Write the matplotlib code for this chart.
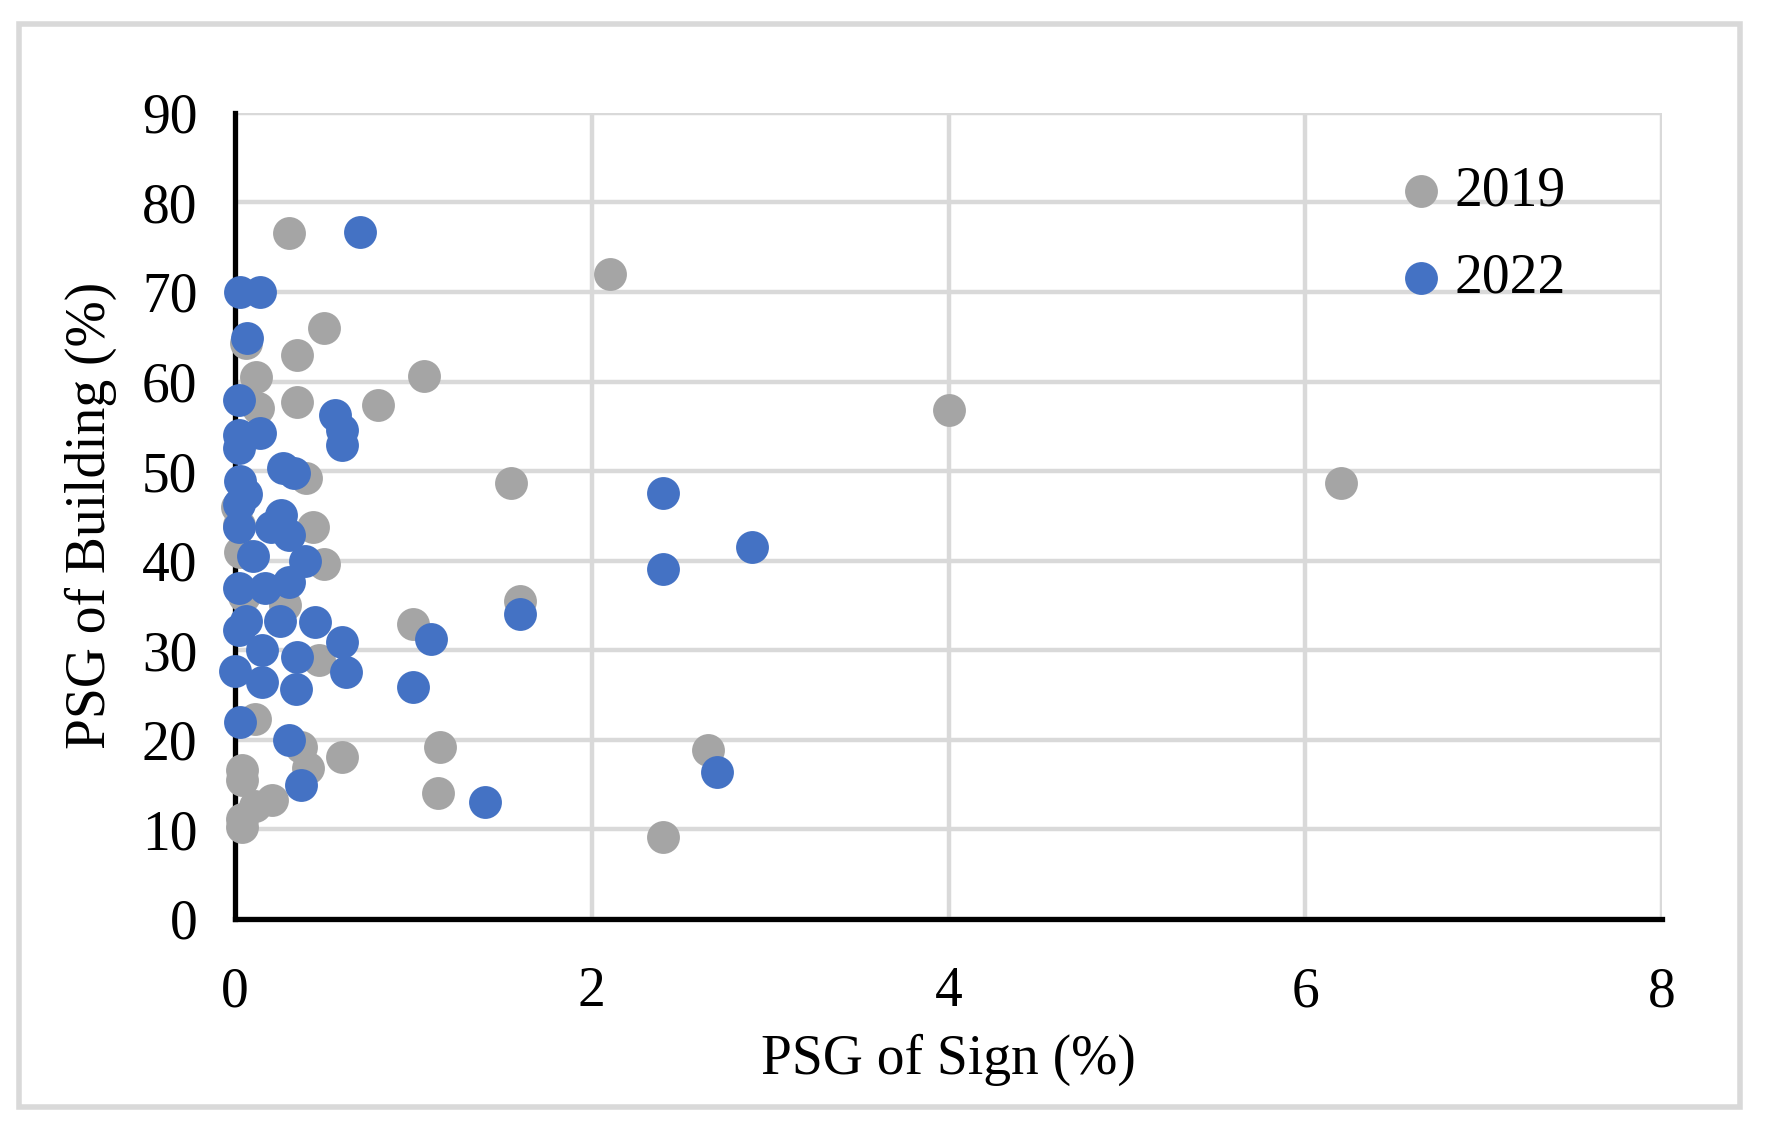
import matplotlib.pyplot as plt
from matplotlib.patches import Rectangle

plt.rcParams["font.family"] = ["Liberation Serif", "DejaVu Serif"]

# 2019 points (PSG of sign %, PSG of building %)
sign_2019 = [0.30, 2.10, 0.50, 0.06, 0.35, 0.12, 1.06, 0.13, 0.35, 0.80,
             4.00, 0.40, 1.55, 6.20, 0.01, 0.02, 0.44, 0.03, 0.50, 0.28,
             0.05, 1.60, 1.00, 0.47, 0.11, 2.65, 0.37, 0.60, 1.15, 0.41,
             0.04, 0.04, 0.21, 0.11, 0.04, 0.04, 1.14, 2.40]
bldg_2019 = [76.6, 72.0, 66.0, 64.3, 63.0, 60.5, 60.6, 57.0, 57.7, 57.4,
             56.8, 49.2, 48.7, 48.7, 46.0, 44.0, 43.7, 41.0, 39.6, 35.1,
             36.0, 35.5, 32.9, 28.9, 22.3, 18.9, 19.2, 18.1, 19.2, 16.8,
             16.6, 15.5, 13.3, 12.6, 11.1, 10.3, 14.0, 9.1]

# 2022 points
sign_2022 = [0.70, 0.03, 0.14, 0.07, 0.02, 0.56, 0.60, 0.60, 0.02, 0.14,
             0.02, 0.27, 0.33, 0.03, 0.06, 0.02, 0.26, 0.02, 0.20, 0.30,
             0.10, 0.39, 0.02, 0.17, 0.30, 0.06, 0.25, 0.45, 0.02, 0.60,
             0.15, 0.35, 0.00, 0.15, 0.34, 0.62, 1.10, 1.00, 0.03, 0.30,
             0.37, 1.40, 2.70, 1.60, 2.40, 2.40, 2.90]
bldg_2022 = [76.7, 70.0, 70.0, 64.9, 57.9, 56.3, 54.6, 52.9, 54.0, 54.3,
             52.6, 50.3, 49.8, 48.9, 47.4, 46.3, 45.1, 43.7, 43.7, 42.9,
             40.5, 40.0, 37.0, 37.0, 37.6, 33.3, 33.3, 33.1, 32.2, 30.9,
             30.0, 29.2, 27.7, 26.4, 25.7, 27.6, 31.3, 25.9, 22.0, 20.0,
             14.9, 13.1, 16.4, 34.0, 47.5, 39.1, 41.5]

x_ticks = [0, 2, 4, 6, 8]
y_ticks = [0, 10, 20, 30, 40, 50, 60, 70, 80, 90]

fig = plt.figure(figsize=(17.67, 11.33), dpi=100)
ax = fig.add_axes([0.133, 0.189, 0.8076, 0.7114])

grid_color = "#d9d9d9"
ax.scatter(sign_2019, bldg_2019, s=560, color="#a5a5a5", label="2019",
           zorder=3, linewidths=0, clip_on=False)
ax.scatter(sign_2022, bldg_2022, s=560, color="#4472c4", label="2022",
           zorder=4, linewidths=0, clip_on=False)

ax.set_xlim(0, 8)
ax.set_ylim(0, 90)
ax.set_xticks(x_ticks)
ax.set_yticks(y_ticks)
ax.grid(True, color=grid_color, linewidth=3.2, zorder=0)
ax.set_axisbelow(True)

for side in ["top", "right"]:
    ax.spines[side].set_visible(False)
for side in ["left", "bottom"]:
    ax.spines[side].set_linewidth(3.8)
    ax.spines[side].set_color("black")
    ax.spines[side].set_zorder(2.5)

ax.tick_params(axis="both", length=0, labelsize=40)
ax.tick_params(axis="x", pad=34)
ax.tick_params(axis="y", pad=27)

ax.set_xlabel("PSG of Sign (%)", fontsize=40, labelpad=11)
ax.set_ylabel("PSG of Building (%)", fontsize=40, labelpad=18)

ax.legend(loc="upper left", bbox_to_anchor=(0.796, 0.962), frameon=False,
          fontsize=40, handletextpad=0.1, labelspacing=0.62,
          borderaxespad=0, handlelength=1.0)

# outer border around the whole chart
fig.patches.append(Rectangle((19 / 1767, 1 - 1107 / 1133), (1740 - 19) / 1767,
                             (1107 - 24) / 1133, transform=fig.transFigure,
                             fill=False, edgecolor=grid_color, linewidth=4))

fig.savefig("out.png", dpi=100)
plt.close(fig)
